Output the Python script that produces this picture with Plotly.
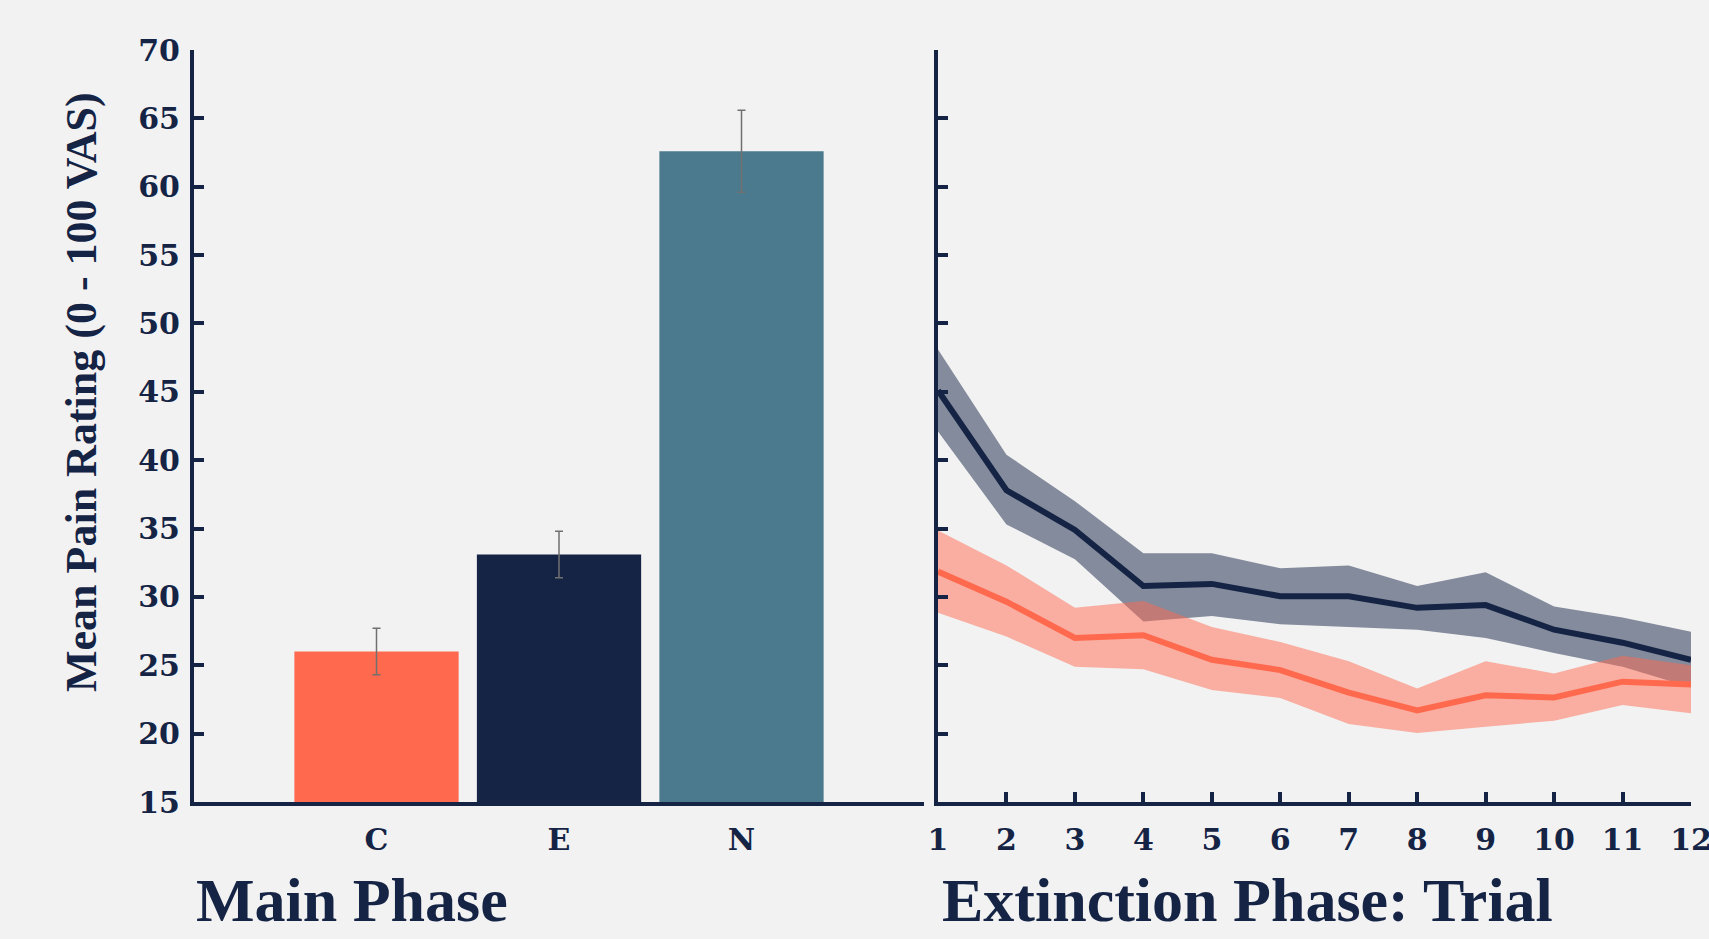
import plotly.graph_objects as go

W, H = 1709, 939
BG = "#F2F2F2"
NAVY = "#152445"
ORANGE = "#FF6A4F"
TEAL = "#4B7A8E"

# Main phase bars
categories = ["C", "E", "N"]
bar_means = [26.0, 33.1, 62.6]
bar_err = [1.7, 1.7, 3.0]
bar_colors = [ORANGE, NAVY, TEAL]

# Extinction phase
trials = list(range(1, 13))
e_mean = [45.1, 37.8, 34.9, 30.8, 30.95, 30.05, 30.05, 29.2, 29.4, 27.6, 26.65, 25.4]
e_upper = [48.1, 40.4, 37.0, 33.2, 33.2, 32.1, 32.3, 30.8, 31.8, 29.3, 28.5, 27.45]
e_lower = [42.1, 35.3, 32.75, 28.2, 28.6, 28.0, 27.8, 27.6, 27.0, 25.9, 24.9, 23.4]
c_mean = [31.85, 29.65, 27.0, 27.2, 25.4, 24.65, 23.0, 21.7, 22.8, 22.65, 23.8, 23.6]
c_upper = [34.85, 32.3, 29.2, 29.7, 27.8, 26.7, 25.3, 23.3, 25.3, 24.4, 25.7, 25.0]
c_lower = [28.85, 27.1, 24.9, 24.7, 23.2, 22.6, 20.7, 20.05, 20.5, 20.95, 22.1, 21.5]

y_ticks = [15, 20, 25, 30, 35, 40, 45, 50, 55, 60, 65, 70]

TICKFONT = dict(family="DejaVu Serif", size=30, color=NAVY, weight="bold")
TITLEFONT = "Liberation Serif, serif"

fig = go.Figure()

fig.add_trace(go.Bar(
    x=categories, y=[m - 15 for m in bar_means], base=15,
    marker=dict(color=bar_colors, line=dict(width=0)),
    width=0.9,
    error_y=dict(type="data", array=bar_err, color="#707070", thickness=1.5, width=4),
    xaxis="x", yaxis="y", showlegend=False, hoverinfo="skip",
))

def band(upper, lower, fill):
    fig.add_trace(go.Scatter(x=trials, y=upper, mode="lines", line=dict(width=0),
                             xaxis="x2", yaxis="y2", showlegend=False, hoverinfo="skip"))
    fig.add_trace(go.Scatter(x=trials, y=lower, mode="lines", line=dict(width=0),
                             fill="tonexty", fillcolor=fill,
                             xaxis="x2", yaxis="y2", showlegend=False, hoverinfo="skip"))

band(e_upper, e_lower, "rgba(21,36,69,0.5)")
band(c_upper, c_lower, "rgba(255,106,79,0.5)")

fig.add_trace(go.Scatter(x=trials, y=e_mean, mode="lines", line=dict(color=NAVY, width=6),
                         xaxis="x2", yaxis="y2", showlegend=False))
fig.add_trace(go.Scatter(x=trials, y=c_mean, mode="lines", line=dict(color=ORANGE, width=6),
                         xaxis="x2", yaxis="y2", showlegend=False))

xl0, xl1 = 194 / W, 924 / W
xr0, xr1 = 938 / W, 1691 / W
yb, yt = 1 - 802 / H, 1 - 50 / H

axis_common = dict(showline=True, linecolor=NAVY, linewidth=4, showgrid=False,
                   zeroline=False, ticks="inside", tickcolor=NAVY, tickwidth=4,
                   ticklen=10, tickfont=TICKFONT, automargin=False)

fig.update_layout(
    width=W, height=H,
    margin=dict(l=0, r=0, t=0, b=0),
    paper_bgcolor=BG, plot_bgcolor=BG,
    bargap=0.1,
    xaxis=dict(domain=[xl0, xl1], range=[-1, 3], type="category",
               showline=True, linecolor=NAVY, linewidth=4, showgrid=False,
               ticks="", tickfont=TICKFONT, automargin=False, anchor="y",
               ticklabelstandoff=8),
    yaxis=dict(domain=[yb, yt], range=[15, 70], tickvals=y_ticks, anchor="x",
               ticklabelstandoff=4, **axis_common),
    xaxis2=dict(domain=[xr0, xr1], range=[1, 12], tickvals=trials, anchor="y2",
                ticklabelstandoff=8, ticklabeloverflow="allow", **axis_common),
    yaxis2=dict(domain=[yb, yt], range=[15, 70], tickvals=y_ticks, showticklabels=False,
                anchor="x2", **axis_common),
    annotations=[
        dict(text="Main Phase", x=194 / W, y=1 - 900 / H, xref="paper", yref="paper",
             xanchor="left", yanchor="middle", showarrow=False,
             font=dict(family=TITLEFONT, size=62, color=NAVY, weight="bold")),
        dict(text="Extinction Phase: Trial", x=940 / W, y=1 - 900 / H, xref="paper", yref="paper",
             xanchor="left", yanchor="middle", showarrow=False,
             font=dict(family=TITLEFONT, size=62, color=NAVY, weight="bold")),
        dict(text="Mean Pain Rating (0 - 100 VAS)", x=82 / W, y=1 - 392 / H, xref="paper", yref="paper",
             xanchor="center", yanchor="middle", showarrow=False, textangle=-90,
             font=dict(family=TITLEFONT, size=44, color=NAVY, weight="bold")),
    ],
)

fig.write_html(
    "out.html",
    config={"displayModeBar": False},
    post_script="document.body.style.margin='0';document.body.style.background='#F2F2F2';"
                "document.body.style.overflow='hidden';",
)
